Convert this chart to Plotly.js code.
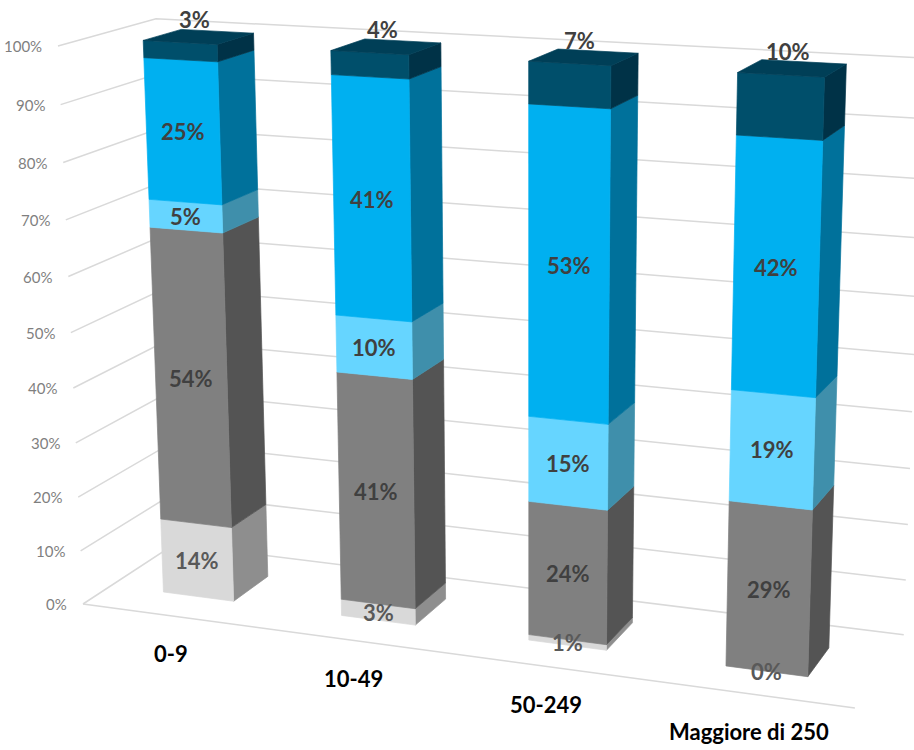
<!DOCTYPE html>
<html><head><meta charset="utf-8">
<script src="https://cdn.plot.ly/plotly-3.0.1.min.js"></script>
<style>html,body{margin:0;padding:0;background:#fff;}#chart{width:914px;height:750px;}</style>
</head><body><div id="chart"></div>
<script>
// ---- data ----
const categories = ["0-9", "10-49", "50-249", "Maggiore di 250"];
const seriesA = [14, 3, 1, 0];     // light grey
const seriesB = [54, 41, 24, 29];  // grey
const seriesC = [5, 10, 15, 19];   // light cyan
const seriesD = [25, 41, 53, 42];  // blue
const seriesE = [3, 4, 7, 10];     // dark navy
const tickValues = [0, 10, 20, 30, 40, 50, 60, 70, 80, 90, 100];
const tickLabels = ["0%", "10%", "20%", "30%", "40%", "50%", "60%", "70%", "80%", "90%", "100%"];

const seriesList = [seriesA, seriesB, seriesC, seriesD, seriesE];

// ---- styles ----
const faceStyles = [
  {front: "#D9D9D9", side: "#8E8E8E", top: "#B5B5B5", label: "#595959"},
  {front: "#808080", side: "#545454", top: "#6A6A6A", label: "#404040"},
  {front: "#66D5FF", side: "#3F8FAB", top: "#52B3D6", label: "#404040"},
  {front: "#00B0F0", side: "#00719B", top: "#0090C5", label: "#404040"},
  {front: "#004F6B", side: "#003247", top: "#003F57", label: "#404040"}
];
const FONT = "Lato, 'Open Sans', sans-serif";

// ---- perspective camera (vanishing-point form) ----
const CAM = {
  o: [83, 604],
  vx: [-6942, -342], a: -0.02475,
  vy: [1578, -375], b: 0.06529,
  vz: [531, 10600], c: -5.287e-4
};
function proj(X, Y, Z) {
  const hx = CAM.o[0] + CAM.a * X * CAM.vx[0] + CAM.b * Y * CAM.vy[0] + CAM.c * Z * CAM.vz[0];
  const hy = CAM.o[1] + CAM.a * X * CAM.vx[1] + CAM.b * Y * CAM.vy[1] + CAM.c * Z * CAM.vz[1];
  const w = 1 + CAM.a * X + CAM.b * Y + CAM.c * Z;
  return [hx / w, hy / w];
}

const NCAT = categories.length;
const BAR_HALF = 0.2, Y_FRONT = 0.3, Y_BACK = 0.7, WALL_DEPTH = 1;

const traces = [];
const annotations = [];

// ---- gridlines (left wall + back wall) ----
const gx = [], gy = [];
tickValues.forEach(v => {
  const p0 = proj(0, 0, v), p1 = proj(0, WALL_DEPTH, v), p2 = proj(NCAT, WALL_DEPTH, v);
  gx.push(p0[0], p1[0], p2[0], null);
  gy.push(p0[1], p1[1], p2[1], null);
});
// floor front edge
const f0 = proj(0, 0, 0), f1 = proj(NCAT, 0, 0);
gx.push(f0[0], f1[0], null); gy.push(f0[1], f1[1], null);
traces.push({x: gx, y: gy, mode: "lines", type: "scatter", line: {color: "#D9D9D9", width: 1.5}, hoverinfo: "skip"});

// tick labels
tickValues.forEach((v, k) => {
  const p = proj(0, 0, v);
  annotations.push({x: p[0] - 14, y: p[1], xref: "x", yref: "y", text: tickLabels[k], showarrow: false,
    xanchor: "right", yanchor: "middle", font: {family: FONT, size: 15, color: "#7F7F7F"}});
});

function face(pts, color) {
  const xs = pts.map(p => p[0]), ys = pts.map(p => p[1]);
  xs.push(xs[0]); ys.push(ys[0]);
  traces.push({x: xs, y: ys, type: "scatter", mode: "lines", fill: "toself", fillcolor: color,
    line: {color: color, width: 0.7}, hoverinfo: "skip"});
}

// ---- bars ----
for (let i = 0; i < NCAT; i++) {
  const total = seriesList.reduce((s, arr) => s + arr[i], 0);
  const xl = i + 0.5 - BAR_HALF, xr = i + 0.5 + BAR_HALF, xc = i + 0.5;
  let cum = 0;
  seriesList.forEach((arr, s) => {
    const z0 = cum / total * 100;
    cum += arr[i];
    const z1 = cum / total * 100;
    const st = faceStyles[s];
    if (z1 > z0) {
      face([proj(xr, Y_FRONT, z0), proj(xr, Y_BACK, z0), proj(xr, Y_BACK, z1), proj(xr, Y_FRONT, z1)], st.side);
      face([proj(xl, Y_FRONT, z0), proj(xr, Y_FRONT, z0), proj(xr, Y_FRONT, z1), proj(xl, Y_FRONT, z1)], st.front);
      if (s === seriesList.length - 1) {
        face([proj(xl, Y_FRONT, z1), proj(xr, Y_FRONT, z1), proj(xr, Y_BACK, z1), proj(xl, Y_BACK, z1)], st.top);
      }
    }
    let lp, xs = 0, ys = 0;
    if (s === seriesList.length - 1) {
      lp = proj(xc, (Y_FRONT + Y_BACK) / 2, z1); xs = -4; ys = 17;
    } else {
      lp = proj(xc, Y_FRONT, (z0 + z1) / 2);
    }
    annotations.push({x: lp[0], y: lp[1], xref: "x", yref: "y", text: "<b>" + arr[i] + "%</b>", showarrow: false,
      xanchor: "center", yanchor: "middle", xshift: xs, yshift: ys,
      font: {family: FONT, size: 22, color: st.label}});
  });
  // category label
  const cp = proj(xc, 0, 0);
  annotations.push({x: cp[0], y: cp[1], xref: "x", yref: "y", text: "<b>" + categories[i] + "</b>", showarrow: false,
    xanchor: "center", yanchor: "middle", yshift: -38,
    font: {family: FONT, size: 22, color: "#000000"}});
}

const layout = {
  width: 914, height: 750,
  margin: {l: 0, r: 0, t: 0, b: 0},
  paper_bgcolor: "#FFFFFF", plot_bgcolor: "#FFFFFF",
  showlegend: false,
  xaxis: {range: [0, 914], visible: false, fixedrange: true},
  yaxis: {range: [750, 0], visible: false, fixedrange: true},
  annotations: annotations
};
Plotly.newPlot("chart", traces, layout, {displayModeBar: false, staticPlot: true});
</script>
</body></html>
